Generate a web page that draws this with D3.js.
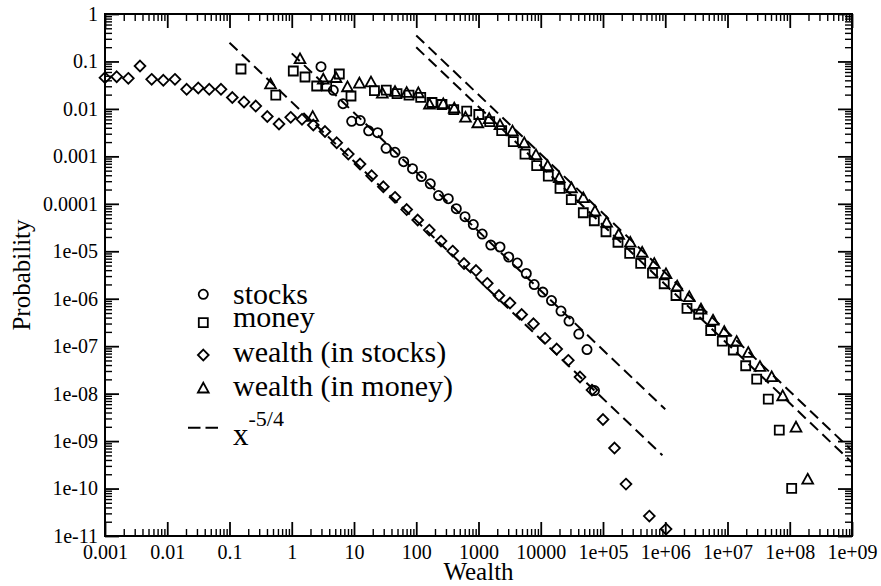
<!DOCTYPE html>
<html><head><meta charset="utf-8">
<script src="https://cdn.jsdelivr.net/npm/d3@7"></script>
<style>
body{margin:0;background:#fff}
svg{display:block}
text{font-family:"Liberation Serif","Times New Roman",serif;fill:#000}
</style>
</head><body>
<svg id="chart" width="881" height="586"></svg>
<script>
// ---------- data ----------
const stocksX = [2.95, 4.65, 6.66, 9.18, 12.6, 17.2, 24.0, 32.7, 45.6, 62.8, 87.0, 121, 168, 228, 327, 440, 607, 825, 1147, 1576, 2215, 3055, 4200, 5860, 7845, 10790, 14880, 21150, 28430, 40850, 55320, 73020];
const stocksY = [0.0775, 0.0247, 0.01287, 0.00548, 0.00569, 0.00345, 0.00315, 0.00148, 0.00122, 0.000772, 0.000549, 0.000376, 0.000264, 0.0001496, 0.000128, 7.88e-5, 5.35e-5, 3.66e-5, 2.31e-5, 1.35e-5, 1.23e-5, 7.57e-6, 5.65e-6, 3.40e-6, 1.99e-6, 1.38e-6, 9.16e-7, 5.50e-7, 3.39e-7, 1.80e-7, 8.50e-8, 1.16e-8];

const moneyX = [0.153, 0.554, 1.059, 1.633, 2.516, 3.64, 5.81, 8.95, 21.3, 33.0, 49.1, 76.5, 118, 179, 259, 400, 646, 1011, 1513, 2358, 3622, 5583, 8604, 13220, 20380, 30950, 48260, 72470, 1.117e5, 1.741e5, 2.684e5, 4.03e5, 6.24e5, 9.62e5, 1.488e6, 2.235e6, 3.445e6, 5.37e6, 8.25e6, 1.239e7, 1.96e7, 2.944e7, 4.52e7, 6.79e7, 1.074e8];
const moneyY = [0.0693, 0.0196, 0.0629, 0.0470, 0.0304, 0.0304, 0.0544, 0.0187, 0.0244, 0.0250, 0.0209, 0.0196, 0.01756, 0.01364, 0.01238, 0.00962, 0.00894, 0.00762, 0.00537, 0.00350, 0.00204, 0.00112, 0.000641, 0.000382, 0.000212, 0.0001226, 6.49e-5, 4.40e-5, 2.58e-5, 1.55e-5, 9.05e-6, 5.57e-6, 3.48e-6, 2.07e-6, 1.17e-6, 6.27e-7, 4.71e-7, 2.14e-7, 1.28e-7, 8.30e-8, 3.87e-8, 2.03e-8, 7.69e-9, 1.71e-9, 1.01e-10];

const wealthStocksX = [0.001, 0.00154, 0.00237, 0.00365, 0.00562, 0.00865, 0.0133, 0.0205, 0.0315, 0.0473, 0.0730, 0.111, 0.171, 0.264, 0.405, 0.624, 0.962, 1.46, 2.22, 3.42, 5.27, 8.10, 12.5, 19.2, 29.6, 45.6, 70.2, 105.5, 162, 250, 385, 585, 912, 1384, 2133, 3205, 4940, 7643, 11700, 18040, 27700, 42700, 66550, 1.0e5, 1.53e5, 2.34e5, 5.55e5, 1.03e6];
const wealthStocksY = [0.0455, 0.0477, 0.0441, 0.0802, 0.0420, 0.0401, 0.0420, 0.0259, 0.0276, 0.0259, 0.0259, 0.0174, 0.0140, 0.0115, 0.00692, 0.00481, 0.00665, 0.00604, 0.00458, 0.00334, 0.00194, 0.00112, 0.000690, 0.000391, 0.000229, 0.000137, 7.58e-5, 4.56e-5, 2.80e-5, 1.64e-5, 1.01e-5, 5.52e-6, 3.93e-6, 2.11e-6, 1.17e-6, 8.11e-7, 4.65e-7, 2.97e-7, 1.46e-7, 8.71e-8, 5.04e-8, 2.24e-8, 1.19e-8, 2.85e-9, 7.14e-10, 1.24e-10, 2.63e-11, 1.40e-11];

const wealthMoneyX = [0.456, 1.357, 2.17, 3.21, 5.14, 7.86, 12.2, 18.75, 28.5, 45.6, 70.2, 108, 163, 272, 408, 618, 974, 1485, 2215, 3516, 5440, 8386, 12930, 19860, 31180, 48260, 74360, 1.146e5, 1.787e5, 2.744e5, 4.26e5, 6.67e5, 1.028e6, 1.556e6, 2.434e6, 3.752e6, 5.85e6, 8.88e6, 1.405e7, 2.158e7, 3.326e7, 5.13e7, 7.70e7, 1.26e8, 1.942e8];
const wealthMoneyY = [0.0332, 0.1126, 0.00685, 0.0420, 0.0452, 0.0289, 0.0346, 0.0365, 0.0213, 0.0230, 0.0220, 0.0216, 0.0125, 0.01269, 0.0103, 0.00659, 0.00504, 0.00618, 0.00458, 0.00339, 0.00191, 0.00107, 0.000626, 0.000353, 0.000215, 0.0001325, 6.98e-5, 4.04e-5, 2.25e-5, 1.53e-5, 9.41e-6, 5.46e-6, 3.32e-6, 1.83e-6, 1.09e-6, 5.98e-7, 3.50e-7, 2.02e-7, 1.24e-7, 7.27e-8, 3.69e-8, 2.24e-8, 8.90e-9, 1.95e-9, 1.56e-10];

// reference power-law lines x^-5/4 : [x0, y0, x1, y1]
const powerLaw1 = [0.1, 0.248, 9e5, 5.04e-10];
const powerLaw2 = [1, 0.148, 1e6, 4.68e-9];
const powerLaw3 = [100, 0.354, 1e9, 6.30e-10];
const powerLaw4 = [100, 0.199, 1e9, 3.54e-10];

const xTickValues = [1e-3, 1e-2, 1e-1, 1, 10, 100, 1e3, 1e4, 1e5, 1e6, 1e7, 1e8, 1e9];
const xTickLabels = ["0.001", "0.01", "0.1", "1", "10", "100", "1000", "10000", "1e+05", "1e+06", "1e+07", "1e+08", "1e+09"];
const yTickValues = [1, 1e-1, 1e-2, 1e-3, 1e-4, 1e-5, 1e-6, 1e-7, 1e-8, 1e-9, 1e-10, 1e-11];
const yTickLabels = ["1", "0.1", "0.01", "0.001", "0.0001", "1e-05", "1e-06", "1e-07", "1e-08", "1e-09", "1e-10", "1e-11"];

const legendLabels = ["stocks", "money", "wealth (in stocks)", "wealth (in money)"];

// ---------- chart ----------
const svg = d3.select("#chart");
const L = 105, R = 852, T = 14, B = 536;
const x = d3.scaleLog().domain([1e-3, 1e9]).range([L, R]);
const y = d3.scaleLog().domain([1e-11, 1]).range([B, T]);

const xMinor = [], yMinor = [];
for (let e = -3; e < 9; e++) for (let m = 2; m < 10; m++) xMinor.push(m * Math.pow(10, e));
for (let e = -11; e < 0; e++) for (let m = 2; m < 10; m++) yMinor.push(m * Math.pow(10, e));

function styleAxis(g, w) {
  g.select(".domain").remove();
  g.selectAll("line").attr("stroke", "#000").attr("stroke-width", w);
  g.selectAll("text").attr("font-family", '"Liberation Serif","Times New Roman",serif').attr("font-size", 20).attr("fill", "#000");
}

// minor ticks
svg.append("g").attr("transform", `translate(0,${B})`)
  .call(d3.axisBottom(x).tickValues(xMinor).tickFormat("").tickSizeInner(-7).tickSizeOuter(0)).call(g => styleAxis(g, 1.4));
svg.append("g").attr("transform", `translate(0,${T})`)
  .call(d3.axisTop(x).tickValues(xMinor).tickFormat("").tickSizeInner(-7).tickSizeOuter(0)).call(g => styleAxis(g, 1.4));
svg.append("g").attr("transform", `translate(${L},0)`)
  .call(d3.axisLeft(y).tickValues(yMinor).tickFormat("").tickSizeInner(-7).tickSizeOuter(0)).call(g => styleAxis(g, 1.4));
svg.append("g").attr("transform", `translate(${R},0)`)
  .call(d3.axisRight(y).tickValues(yMinor).tickFormat("").tickSizeInner(-7).tickSizeOuter(0)).call(g => styleAxis(g, 1.4));

// major ticks
svg.append("g").attr("transform", `translate(0,${B})`)
  .call(d3.axisBottom(x).tickValues(xTickValues).tickFormat((d, i) => xTickLabels[i]).tickSizeInner(-14).tickSizeOuter(0).tickPadding(9)).call(g => styleAxis(g, 1.8));
svg.append("g").attr("transform", `translate(0,${T})`)
  .call(d3.axisTop(x).tickValues(xTickValues).tickFormat("").tickSizeInner(-14).tickSizeOuter(0)).call(g => styleAxis(g, 1.8));
svg.append("g").attr("transform", `translate(${L},0)`)
  .call(d3.axisLeft(y).tickValues(yTickValues).tickFormat((d, i) => yTickLabels[i]).tickSizeInner(-14).tickSizeOuter(0).tickPadding(7)).call(g => styleAxis(g, 1.8));
svg.append("g").attr("transform", `translate(${R},0)`)
  .call(d3.axisRight(y).tickValues(yTickValues).tickFormat("").tickSizeInner(-14).tickSizeOuter(0)).call(g => styleAxis(g, 1.8));

// frame
svg.append("rect").attr("x", L).attr("y", T).attr("width", R - L).attr("height", B - T)
  .attr("fill", "none").attr("stroke", "#000").attr("stroke-width", 2);

// axis titles
svg.append("text").attr("x", (L + R) / 2).attr("y", 580).attr("text-anchor", "middle").attr("font-size", 25).text("Wealth");
svg.append("text").attr("transform", `translate(30,${(T + B) / 2}) rotate(-90)`).attr("text-anchor", "middle").attr("font-size", 25).text("Probability");

// power-law dashed lines
const plot = svg.append("g");
[powerLaw1, powerLaw2, powerLaw3, powerLaw4].forEach(p => {
  plot.append("line")
    .attr("x1", x(p[0])).attr("y1", y(p[1])).attr("x2", x(p[2])).attr("y2", y(p[3]))
    .attr("stroke", "#000").attr("stroke-width", 2).attr("stroke-dasharray", "11,6");
});

// marker shapes
const shapes = {
  circle: "M4.6,0A4.6,4.6,0,1,1,-4.6,0A4.6,4.6,0,1,1,4.6,0Z",
  square: "M-4.5,-4.5H4.5V4.5H-4.5Z",
  diamond: "M0,-5.4L5.4,0L0,5.4L-5.4,0Z",
  triangle: "M0,-5.6L5.4,4.2L-5.4,4.2Z"
};

function drawSeries(xs, ys, shape) {
  plot.append("g").selectAll("path").data(xs.map((v, i) => [v, ys[i]])).join("path")
    .attr("d", shapes[shape])
    .attr("transform", d => `translate(${x(d[0])},${y(d[1])})`)
    .attr("fill", "none").attr("stroke", "#000").attr("stroke-width", 1.8);
}
drawSeries(wealthStocksX, wealthStocksY, "diamond");
drawSeries(stocksX, stocksY, "circle");
drawSeries(moneyX, moneyY, "square");
drawSeries(wealthMoneyX, wealthMoneyY, "triangle");

// legend
const legShapes = ["circle", "square", "diamond", "triangle"];
const legSymY = [294.3, 322.7, 355, 388.3];
const legTextY = [304, 326.7, 362, 396];
const leg = svg.append("g");
legendLabels.forEach((lab, i) => {
  leg.append("path").attr("d", shapes[legShapes[i]]).attr("transform", `translate(203.3,${legSymY[i]})`)
    .attr("fill", "none").attr("stroke", "#000").attr("stroke-width", 1.8);
  leg.append("text").attr("x", 233).attr("y", legTextY[i]).attr("font-size", 30).text(lab);
});
leg.append("line").attr("x1", 188).attr("x2", 218.5).attr("y1", 427.7).attr("y2", 427.7)
  .attr("stroke", "#000").attr("stroke-width", 2).attr("stroke-dasharray", "12.5,5");
const xt = leg.append("text").attr("x", 233).attr("y", 445).attr("font-size", 31);
xt.append("tspan").text("x");
xt.append("tspan").attr("font-size", 22).attr("dy", -19).text("-5/4");
</script>
</body></html>
